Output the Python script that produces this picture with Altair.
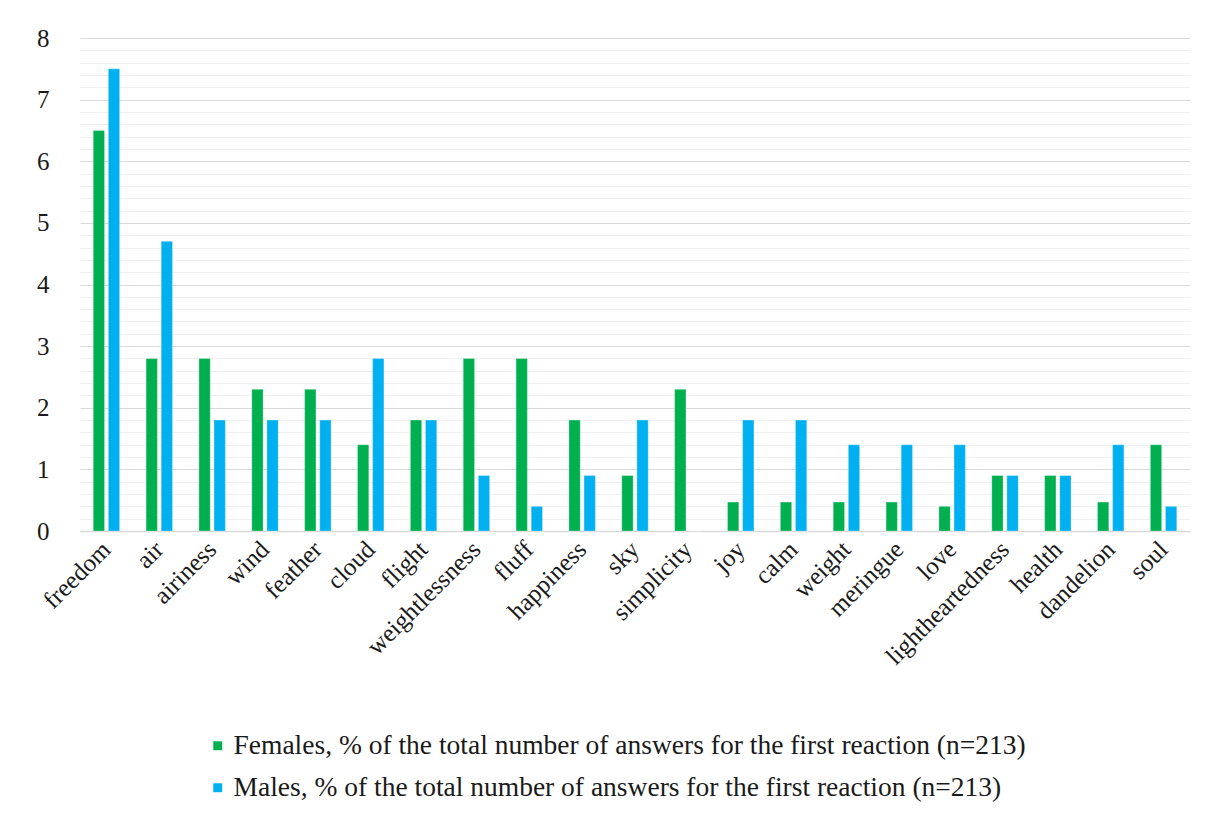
import altair as alt
import pandas as pd

categories = ["freedom", "air", "airiness", "wind", "feather", "cloud", "flight",
              "weightlessness", "fluff", "happiness", "sky", "simplicity", "joy",
              "calm", "weight", "meringue", "love", "lightheartedness", "health",
              "dandelion", "soul"]
females = [6.5, 2.8, 2.8, 2.3, 2.3, 1.4, 1.8, 2.8, 2.8, 1.8, 0.9, 2.3, 0.47,
           0.47, 0.47, 0.47, 0.4, 0.9, 0.9, 0.47, 1.4]
males = [7.5, 4.7, 1.8, 1.8, 1.8, 2.8, 1.8, 0.9, 0.4, 0.9, 1.8, 0.0, 1.8,
         1.8, 1.4, 1.4, 1.4, 0.9, 0.9, 1.4, 0.4]
series_names = ["Females, % of the total number of answers for the first reaction (n=213)",
                "Males, % of the total number of answers for the first reaction (n=213)"]
series_colors = ["#00B050", "#00B0F0"]

rows = []
for c, f, m in zip(categories, females, males):
    rows.append({"word": c, "series": series_names[0], "value": f})
    rows.append({"word": c, "series": series_names[1], "value": m})
df = pd.DataFrame(rows)

grid_values = [round(i * 0.2, 1) for i in range(0, 41)]
FONT = "Liberation Serif"

chart = alt.Chart(df).mark_bar(stroke="#ffffff", strokeWidth=0.5, strokeOpacity=0.6).encode(
    x=alt.X("word:N", sort=categories,
            scale=alt.Scale(paddingInner=0.5, paddingOuter=0.25),
            axis=alt.Axis(title=None, labelAngle=-45, labelAlign="right", labelBaseline="middle",
                          labelPadding=14, ticks=False, domainColor="#d9d9d9", domainWidth=1.5,
                          labelFont=FONT, labelFontSize=25, labelColor="#1a1a1a", labelLimit=0,
                          grid=False)),
    xOffset=alt.XOffset("series:N", sort=series_names,
                        scale=alt.Scale(paddingInner=0.25, paddingOuter=0)),
    y=alt.Y("value:Q", scale=alt.Scale(domain=[0, 8], nice=False),
            axis=alt.Axis(title=None, values=grid_values, ticks=False, domain=False,
                          labelExpr="datum.value % 1 === 0 ? format(datum.value, 'd') : ''",
                          labelFont=FONT, labelFontSize=25, labelColor="#1a1a1a",
                          labelPadding=31,
                          gridColor={"condition": {"test": "datum.value % 1 === 0", "value": "#d9d9d9"},
                                     "value": "#f0f0f0"},
                          gridWidth=1)),
    color=alt.Color("series:N", sort=series_names,
                    scale=alt.Scale(domain=series_names, range=series_colors),
                    legend=alt.Legend(title=None, orient="none", direction="vertical",
                                      legendX=124, legendY=694, symbolType="square",
                                      symbolSize=80, symbolStrokeWidth=0,
                                      labelFont=FONT, labelFontSize=27.5, labelColor="#1a1a1a",
                                      rowPadding=13, labelLimit=0, padding=0, labelOffset=2)),
).properties(
    width=1110, height=493,
    autosize=alt.AutoSizeParams(type="none"),
    padding={"left": 72, "top": 30, "right": 10, "bottom": 285},
).configure_view(stroke=None)

chart.save("out.html", embed_options={"renderer": "svg", "actions": False})
